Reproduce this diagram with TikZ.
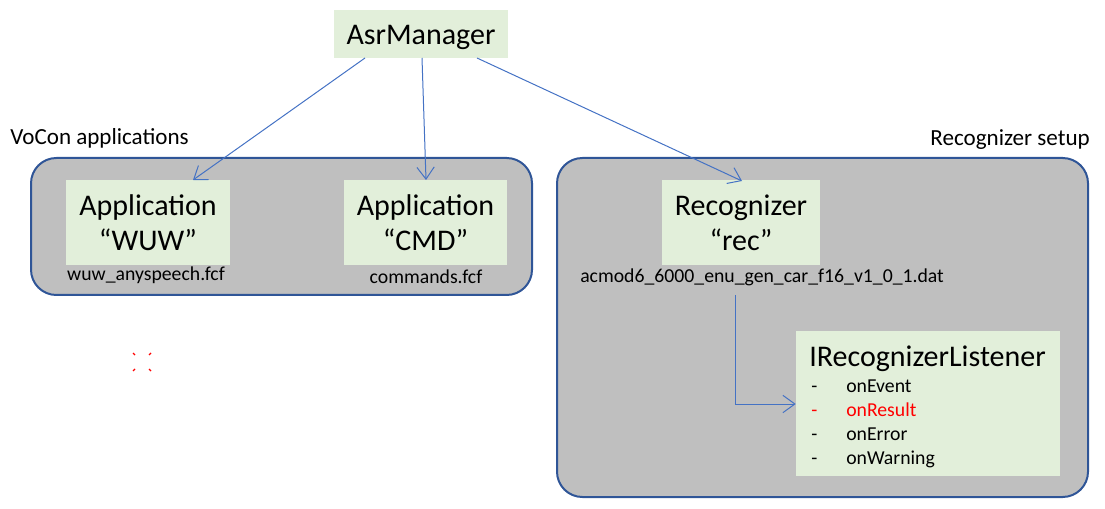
\documentclass[tikz,border=0pt]{standalone}
\usepackage{fontspec}
\setmainfont{Carlito}
\usetikzlibrary{arrows.meta,calc}
\definecolor{boxgreen}{HTML}{E2EFDA}
\definecolor{groupgray}{HTML}{BFBFBF}
\definecolor{groupborder}{HTML}{2F5597}
\definecolor{arrowblue}{HTML}{4472C4}
\tikzset{
  greenbox/.style={fill=boxgreen, draw=none, inner sep=0pt, align=center, font=\fontsize{22.5}{26}\selectfont},
  groupbox/.style={fill=groupgray, draw=groupborder, line width=1.5pt, rounded corners=19pt, inner sep=0pt},
  conn/.style={draw=arrowblue, line width=0.75pt, -{Straight Barb[length=9pt,width=13pt,line width=0.75pt]}},
  smalltext/.style={inner sep=0pt, font=\fontsize{14.8}{16}\selectfont},
  grouplabel/.style={inner sep=0pt, font=\fontsize{17.3}{18}\selectfont},
  listitem/.style={inner sep=0pt, anchor=base west, font=\fontsize{14.8}{16}\selectfont},
}
\begin{document}
\begin{tikzpicture}[x=0.75pt,y=-0.75pt]
\useasboundingbox (0,0) rectangle (1105,509);
% groups
\node[groupbox, minimum width=375.75pt, minimum height=102.75pt] (leftgrp) at (281.5,226.5) {};
\node[groupbox, minimum width=398.25pt, minimum height=254.25pt] (rightgrp) at (822.5,327.5) {};
\node[grouplabel, anchor=west] (voconlbl) at (10,138) {VoCon applications};
\node[grouplabel, anchor=east] (recsetuplbl) at (1090,140) {Recognizer setup};
% boxes
\node[greenbox, minimum width=130.5pt, minimum height=36pt] (asr) at (421,34) {};
\node[inner sep=0pt, font=\fontsize{22.5}{26}\selectfont] (asrtext) at (421,37) {AsrManager};
\node[greenbox, minimum width=123pt, minimum height=63.75pt] (wuw) at (148,222.5) {Application\\“WUW”};
\node[greenbox, minimum width=122.25pt, minimum height=63.75pt] (cmd) at (425.5,222.5) {Application\\“CMD”};
\node[greenbox, minimum width=118.5pt, minimum height=63.75pt] (rec) at (741,222.5) {Recognizer\\“rec”};
\node[greenbox, minimum width=198pt, minimum height=108.75pt] (lis) at (928,403.5) {};
% file labels
\node[smalltext] (wuwfile) at (146,275) {wuw\_anyspeech.fcf};
\node[smalltext] (cmdfile) at (426,277) {commands.fcf};
\node[smalltext, anchor=west] (acmod) at (580,277) {acmod6\_6000\_enu\_gen\_car\_f16\_v1\_0\_1.dat};
% listener content
\node[inner sep=0pt, anchor=base west, font=\fontsize{22.5}{26}\selectfont] (listitle) at (809,366) {IRecognizerListener};
\node[listitem] (d1) at (811,392) {-};
\node[listitem] (i1) at (846,392) {onEvent};
\node[listitem, text=red] (d2) at (811,416) {-};
\node[listitem, text=red] (i2) at (846,416) {onResult};
\node[listitem] (d3) at (811,440) {-};
\node[listitem] (i3) at (846,440) {onError};
\node[listitem] (d4) at (811,464) {-};
\node[listitem] (i4) at (846,464) {onWarning};
% connectors
\coordinate (a1) at (365,58);
\coordinate (a2) at (422,58);
\coordinate (a3) at (477,58);
\draw[conn] (a1) -- (193,180);
\draw[conn] (a2) -- (426,180);
\draw[conn] (a3) -- (742,181);
\coordinate (lstart) at (735,295);
\draw[conn] (lstart) |- (lis.west |- 0,404);
% small red marks
\draw[red, line width=0.9pt] (133,353) -- (135,355) (151,353) -- (149,355) (133,371) -- (135,369) (151,371) -- (149,369);
\end{tikzpicture}
\end{document}
